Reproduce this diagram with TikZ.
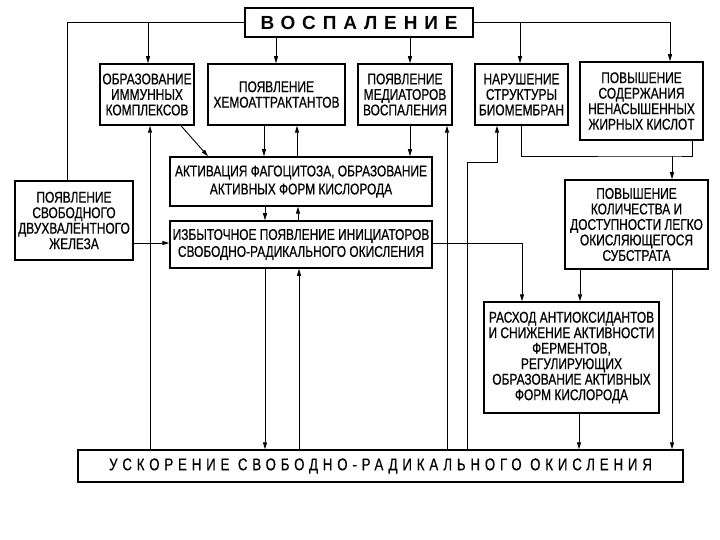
\documentclass[tikz,border=0pt]{standalone}
\usepackage{fontspec}
\setsansfont{Liberation Sans}[FakeStretch=0.77,FakeBold=0.6]
\newfontfamily\titlefont{Liberation Sans}[LetterSpace=36]
\newfontfamily\accelfont{Liberation Sans}[FakeStretch=0.78,LetterSpace=28.5,FakeBold=0.4]
\usepackage{tikz}
\usetikzlibrary{arrows.meta, positioning, calc}
\tikzset{every node/.style={font=\sffamily}}

\begin{document}
\begin{tikzpicture}[
  x=1pt, y=-1pt,
  boxnode/.style={draw, line width=1.5pt, align=center, inner sep=1pt, font=\sffamily\fontsize{15.5}{15.5}\selectfont},
  titlenode/.style={draw, line width=1.9pt, font=\titlefont\bfseries\fontsize{19}{20}\selectfont},
  accelnode/.style={draw, line width=1.5pt, font=\accelfont\fontsize{17}{18}\selectfont},
  arr/.style={-{Triangle[length=7pt,width=4pt]}, line width=0.9pt},
  link/.style={line width=0.9pt}
]
  \fill[white] (0,0) rectangle (720,540);
  \useasboundingbox (0,0) rectangle (720,540);

  \node[titlenode, minimum width=228pt, minimum height=29pt] (vosp) at (359,22.5) {ВОСПАЛЕНИЕ};
  \node[boxnode, minimum width=94pt, minimum height=61pt] (imm) at (147,94.5) {ОБРАЗОВАНИЕ\\ИММУННЫХ\\КОМПЛЕКСОВ};
  \node[boxnode, minimum width=137pt, minimum height=61pt] (chemo) at (276.5,94.5) {ПОЯВЛЕНИЕ\\ХЕМОАТТРАКТАНТОВ};
  \node[boxnode, minimum width=94pt, minimum height=61pt] (med) at (405,94.5) {ПОЯВЛЕНИЕ\\МЕДИАТОРОВ\\ВОСПАЛЕНИЯ};
  \node[boxnode, minimum width=93pt, minimum height=61pt] (memb) at (521.5,94.5) {НАРУШЕНИЕ\\СТРУКТУРЫ\\БИОМЕМБРАН};
  \node[boxnode, minimum width=123pt, minimum height=78pt] (fat) at (641.5,101) {ПОВЫШЕНИЕ\\СОДЕРЖАНИЯ\\НЕНАСЫШЕННЫХ\\ЖИРНЫХ КИСЛОТ};
  \node[boxnode, minimum width=262pt, minimum height=49pt, font=\sffamily\fontsize{15.5}{18}\selectfont] (phag) at (301,181.5) {АКТИВАЦИЯ ФАГОЦИТОЗА, ОБРАЗОВАНИЕ\\АКТИВНЫХ ФОРМ КИСЛОРОДА};
  \node[boxnode, minimum width=262pt, minimum height=47pt, font=\sffamily\fontsize{15.5}{17}\selectfont] (init) at (301,244.5) {ИЗБЫТОЧНОЕ ПОЯВЛЕНИЕ ИНИЦИАТОРОВ\\СВОБОДНО-РАДИКАЛЬНОГО ОКИСЛЕНИЯ};
  \node[boxnode, minimum width=118pt, minimum height=79pt] (iron) at (74,220.5) {ПОЯВЛЕНИЕ\\СВОБОДНОГО\\ДВУХВАЛЕНТНОГО\\ЖЕЛЕЗА};
  \node[boxnode, minimum width=143pt, minimum height=89pt] (subst) at (636.5,224.5) {ПОВЫШЕНИЕ\\КОЛИЧЕСТВА И\\ДОСТУПНОСТИ ЛЕГКО\\ОКИСЛЯЮЩЕГОСЯ\\СУБСТРАТА};
  \node[boxnode, minimum width=175pt, minimum height=111pt] (antiox) at (571.5,357.5) {РАСХОД АНТИОКСИДАНТОВ\\И СНИЖЕНИЕ АКТИВНОСТИ\\ФЕРМЕНТОВ,\\РЕГУЛИРУЮЩИХ\\ОБРАЗОВАНИЕ АКТИВНЫХ\\ФОРМ КИСЛОРОДА};
  \node[accelnode, minimum width=605pt, minimum height=32pt] (accel) at (380.5,466) {УСКОРЕНИЕ СВОБОДНО-РАДИКАЛЬНОГО ОКИСЛЕНИЯ};

  \coordinate (bend) at (467,162);
  \coordinate (join) at (672,156);

  \draw[link] (vosp.west) -| (iron.north -| 67,0);
  \draw[arr] (vosp.west -| 148,0) -- (imm.north -| 148,0);
  \draw[arr] (vosp.south -| 276,0) -- (chemo.north -| 276,0);
  \draw[arr] (vosp.south -| 410,0) -- (med.north -| 410,0);
  \draw[arr] (vosp.east) -| (fat.north -| 670,0);
  \draw[arr] (vosp.east -| 520,0) -- (memb.north -| 520,0);

  \draw[arr] (imm.south -| 181,0) -- (phag.north -| 208,0);
  \draw[arr] (chemo.south -| 264,0) -- (phag.north -| 264,0);
  \draw[arr] (phag.north -| 297,0) -- (chemo.south -| 297,0);
  \draw[arr] (med.south -| 410,0) -- (phag.north -| 410,0);
  \draw[arr] (phag.south -| 265,0) -- (init.north -| 265,0);
  \draw[arr] (init.north -| 298,0) -- (phag.south -| 298,0);
  \draw[arr] (iron.east |- 0,243) -- (init.west |- 0,243);

  \draw[arr] (init.south -| 265,0) -- (accel.north -| 265,0);
  \draw[arr] (accel.north -| 299,0) -- (init.south -| 299,0);
  \draw[arr] (accel.north -| 150,0) -- (imm.south -| 150,0);
  \draw[arr] (accel.north -| 447,0) -- (med.south -| 447,0);
  \draw[arr] (accel.north -| bend) -- (bend) -| (memb.south -| 497,0);
  \draw[arr] (init.east |- 0,243) -| (antiox.north -| 522,0);

  \draw[link] (memb.south -| 521,0) |- (join) -| (fat.south -| 692,0);
  \draw[arr] (join) -- (subst.north -| join);
  \draw[arr] (subst.south -| 580,0) -- (antiox.north -| 580,0);
  \draw[arr] (subst.south -| join) -- (accel.north -| join);
  \draw[arr] (antiox.south -| 579,0) -- (accel.north -| 579,0);
\end{tikzpicture}
\end{document}
